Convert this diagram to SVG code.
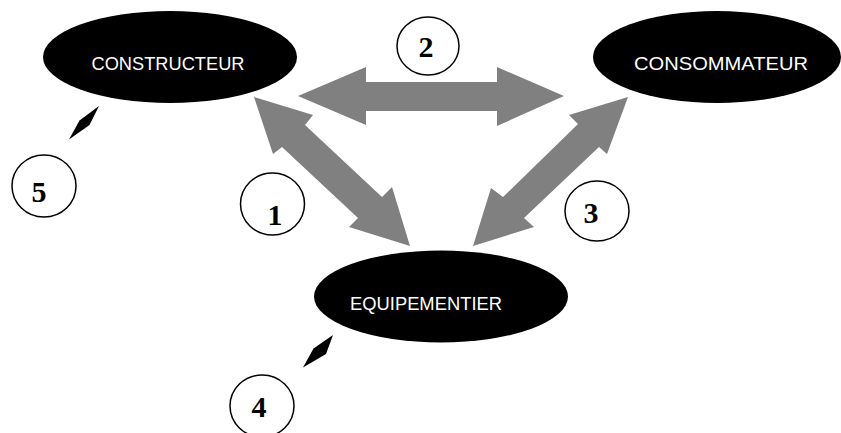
<svg xmlns="http://www.w3.org/2000/svg" width="841" height="433" viewBox="0 0 841 433">
  <style>
    .node { fill: #000000; }
    .label { fill: #ffffff; font-family: "Liberation Sans", Arial, sans-serif; font-size: 19px; text-anchor: middle; }
    .big { fill: #808080; stroke: none; }
    .small { fill: #000000; stroke: none; }
    .num-circle { fill: #ffffff; stroke: #000000; stroke-width: 1.5; }
    .num { fill: #000000; font-family: "Liberation Serif", "Times New Roman", serif; font-weight: bold; font-size: 30px; text-anchor: middle; }
  </style>
  <rect width="841" height="433" fill="#ffffff"/>

  <g id="connectors">
    <polygon id="arrow-2" class="big" points="298,96 366,67 366,82 497,82 497,67 564,96 497,126 497,111 366,111 366,125"/>
    <polygon id="arrow-1" class="big" points="254,97 313,115 305,125 382,197 392,187 410,246 349,227 358,218 282,147 273,154"/>
    <polygon id="arrow-3" class="big" points="628,97 569,115 578,124 503,197 491,188 473,246 534,227 524,218 599,147 607,154"/>
    <polygon id="arrow-5" class="small" points="99,106 89.5,125 69,139.5 79.5,120.5"/>
    <polygon id="arrow-4" class="small" points="333,335 326,354 303,367.5 313.5,348.5"/>
  </g>

  <g id="constructeur">
    <ellipse class="node" cx="170" cy="57" rx="127" ry="46"/>
    <text class="label" x="168" y="70" textLength="153" lengthAdjust="spacingAndGlyphs">CONSTRUCTEUR</text>
  </g>
  <g id="consommateur">
    <ellipse class="node" cx="717" cy="57" rx="124" ry="46"/>
    <text class="label" x="721" y="70" textLength="174" lengthAdjust="spacingAndGlyphs">CONSOMMATEUR</text>
  </g>
  <g id="equipementier">
    <ellipse class="node" cx="441" cy="296.5" rx="127" ry="46"/>
    <text class="label" x="426" y="310" textLength="152" lengthAdjust="spacingAndGlyphs">EQUIPEMENTIER</text>
  </g>

  <g id="label-1">
    <ellipse class="num-circle" cx="272.5" cy="204" rx="32" ry="31"/>
    <text class="num" x="275" y="225">1</text>
  </g>
  <g id="label-2">
    <ellipse class="num-circle" cx="428" cy="46" rx="31" ry="29"/>
    <text class="num" x="426" y="57">2</text>
  </g>
  <g id="label-3">
    <ellipse class="num-circle" cx="597" cy="211" rx="32" ry="30"/>
    <text class="num" x="591" y="223">3</text>
  </g>
  <g id="label-4">
    <ellipse class="num-circle" cx="262" cy="406" rx="32" ry="31"/>
    <text class="num" x="259" y="417">4</text>
  </g>
  <g id="label-5">
    <ellipse class="num-circle" cx="44" cy="186" rx="32" ry="31"/>
    <text class="num" x="39" y="202">5</text>
  </g>
</svg>
